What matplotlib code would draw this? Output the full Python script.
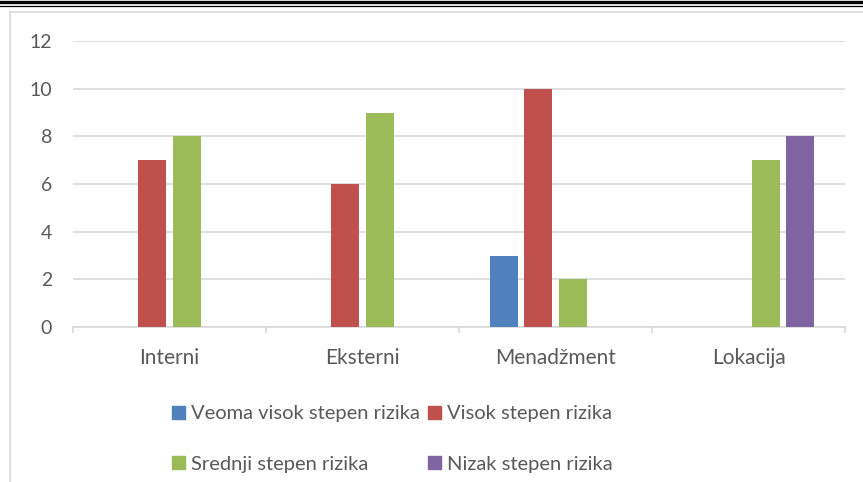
import matplotlib
matplotlib.use("Agg")
import matplotlib.pyplot as plt
import numpy as np
from matplotlib.lines import Line2D
from matplotlib.patches import Rectangle

categories = ["Interni", "Eksterni", "Menadžment", "Lokacija"]
series_names = ["Veoma visok stepen rizika", "Visok stepen rizika",
                "Srednji stepen rizika", "Nizak stepen rizika"]
veoma_visok = [0, 0, 3, 0]
visok = [7, 6, 10, 0]
srednji = [8, 9, 2, 7]
nizak = [0, 0, 0, 8]
yticks = [0, 2, 4, 6, 8, 10, 12]

colors = ["#4F81BD", "#C0504D", "#9BBB59", "#8064A2"]
txt = "#595959"
plt.rcParams['font.family'] = ['Lato', 'DejaVu Sans']

fig = plt.figure(figsize=(8.63, 4.82), dpi=100)
ax = fig.add_axes([73/863, 1-327/482, (845-73)/863, (327-41)/482])

x = np.arange(len(categories))
slot = 0.179
width = 0.145
all_series = [veoma_visok, visok, srednji, nizak]
handles = []
for i, (vals, c, name) in enumerate(zip(all_series, colors, series_names)):
    ax.bar(x + (i - 1.5) * slot, vals, width=width, color=c, label=name, zorder=3)
    handles.append(Rectangle((0, 0), 1, 1, color=c))

ax.set_xlim(-0.5, 3.5)
ax.set_ylim(0, 12)
ax.set_yticks(yticks)
ax.yaxis.grid(True, color="#D9D9D9", linewidth=1.2, zorder=0)
ax.set_axisbelow(True)
for s in ["top", "right", "left"]:
    ax.spines[s].set_visible(False)
ax.spines["bottom"].set_color("#D9D9D9")
ax.spines["bottom"].set_linewidth(1.2)
ax.tick_params(axis="y", length=0, pad=15, labelsize=14, labelcolor=txt)
ax.set_xticks(x)
ax.set_xticklabels(categories, fontsize=15, color=txt)
ax.tick_params(axis="x", length=0, pad=15)
# category boundary ticks
for b in np.arange(-0.5, 4, 1.0):
    ax.plot([b, b], [0, -0.2], color="#D9D9D9", lw=1.2, clip_on=False, transform=ax.transData)

# row-wise order for 2-column legend
order = [0, 2, 1, 3]
leg = fig.legend([handles[i] for i in order], [series_names[i] for i in order],
                 ncol=2, loc="center",
                 bbox_to_anchor=(392/863, 1-439/482), frameon=False,
                 fontsize=14.5, labelcolor=txt, handlelength=0.65, handleheight=0.65,
                 handletextpad=0.3, columnspacing=0.4, labelspacing=1.65)

# chart border
fig.add_artist(Line2D([10/863, 10/863], [0, 1-12/482], color="#D9D9D9", lw=1.2))
fig.add_artist(Line2D([10/863, 1], [1-12/482, 1-12/482], color="#D9D9D9", lw=1.2))
# double line at top
fig.add_artist(Line2D([0, 1], [1-1.5/482, 1-1.5/482], color="black", lw=2.4))
fig.add_artist(Line2D([0, 1], [1-5.5/482, 1-5.5/482], color="black", lw=0.9))

fig.savefig("out.png", dpi=100)
